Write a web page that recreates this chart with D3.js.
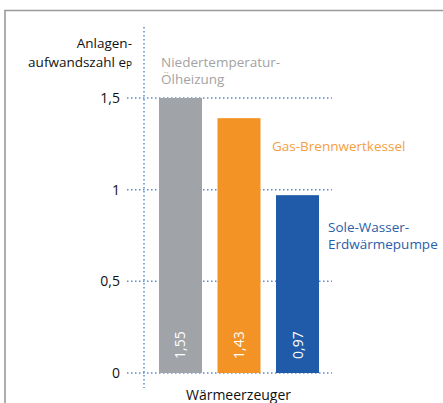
<!DOCTYPE html>
<html>
<head>
<meta charset="utf-8">
<script src="https://cdn.jsdelivr.net/npm/d3@7"></script>
<style>
  body { margin: 0; background: #fff; }
  svg { font-family: "Open Sans", sans-serif; }
</style>
</head>
<body>
<div id="app"></div>
<script>
// categories, the height each bar is drawn to, and the printed values
const names = ["Niedertemperatur-Ölheizung", "Gas-Brennwertkessel", "Sole-Wasser-Erdwärmepumpe"]
const drawn = [1.5, 1.39, 0.97]
const printed = ["1,55", "1,43", "0,97"]
const ticks = [0, 0.5, 1, 1.5]
const tickLabels = ["0", "0,5", "1", "1,5"]

const barColors = ["#a0a3a8", "#f39325", "#1f5ba8"]
const textColors = ["#a3a3a3", "#f5a040", "#2a5ea8"]
const gridColor = "#5b8bd0"

const W = 443, H = 403

const svg = d3.select('#app')
    .append('svg')
    .attr('width', W)
    .attr('height', H)

// frame
svg.append('path')
    .attr('d', `M5,${H + 2}V10.5H${W + 2}`)
    .attr('fill', 'none')
    .attr('stroke', '#9a9a9a')
    .attr('stroke-width', 1.6)

const y = d3.scaleLinear()
    .domain([0, 1.5])
    .range([373, 98])

const x = d3.scaleBand()
    .domain(names)
    .range([159, 319])
    .paddingInner(0.265)

// horizontal grid
svg.selectAll('line.grid')
    .data(ticks)
    .enter()
    .append('line')
    .attr('class', 'grid')
    .attr('x1', 127)
    .attr('x2', 332)
    .attr('y1', d => y(d))
    .attr('y2', d => y(d))
    .attr('stroke', gridColor)
    .attr('stroke-width', 1.5)
    .attr('stroke-dasharray', '1.5,2.5')

// vertical axis line
svg.append('line')
    .attr('x1', 144).attr('x2', 144)
    .attr('y1', 27).attr('y2', 388)
    .attr('stroke', gridColor)
    .attr('stroke-width', 1.5)
    .attr('stroke-dasharray', '1.5,2.5')

// tick labels
svg.selectAll('text.tick')
    .data(ticks)
    .enter()
    .append('text')
    .attr('class', 'tick')
    .attr('x', 120)
    .attr('y', d => y(d) + 5)
    .attr('text-anchor', 'end')
    .attr('font-size', 14)
    .attr('fill', '#111')
    .text((d, i) => tickLabels[i])

// bars
svg.selectAll('rect.bar')
    .data(names)
    .enter()
    .append('rect')
    .attr('class', 'bar')
    .attr('x', d => x(d))
    .attr('y', (d, i) => y(drawn[i]))
    .attr('width', x.bandwidth())
    .attr('height', (d, i) => y(0) - y(drawn[i]))
    .attr('fill', (d, i) => barColors[i])

// values inside bars
svg.selectAll('text.val')
    .data(names)
    .enter()
    .append('text')
    .attr('class', 'val')
    .attr('transform', d => `translate(${x(d) + x.bandwidth() / 2 + 5},359) rotate(-90)`)
    .attr('font-size', 14)
    .attr('fill', '#fff')
    .text((d, i) => printed[i])

// category labels
const catLabels = [
    { lines: ["Niedertemperatur-", "Ölheizung"], x: 161, y: 67 },
    { lines: ["Gas-Brennwertkessel"], x: 272, y: 150.5 },
    { lines: ["Sole-Wasser-", "Erdwärmepumpe"], x: 328, y: 232 }
]
catLabels.forEach((c, i) => {
    const t = svg.append('text')
        .attr('x', c.x)
        .attr('y', c.y)
        .attr('font-size', 13.5)
        .attr('fill', textColors[i])
    c.lines.forEach((l, j) => {
        t.append('tspan').attr('x', c.x).attr('dy', j ? 16.5 : 0).text(l)
    })
})

// y title
const yt = svg.append('text')
    .attr('x', 132)
    .attr('y', 48)
    .attr('text-anchor', 'end')
    .attr('font-size', 13.5)
    .attr('fill', '#111')
yt.append('tspan').attr('x', 132).text('Anlagen-')
yt.append('tspan').attr('x', 132).attr('dy', 19).text('aufwandszahl e')
yt.append('tspan').attr('font-size', 10).attr('dy', 2).text('P')

// x title
svg.append('text')
    .attr('x', 238.5)
    .attr('y', 400)
    .attr('text-anchor', 'middle')
    .attr('font-size', 14)
    .attr('fill', '#111')
    .text('Wärmeerzeuger')
</script>
</body>
</html>
